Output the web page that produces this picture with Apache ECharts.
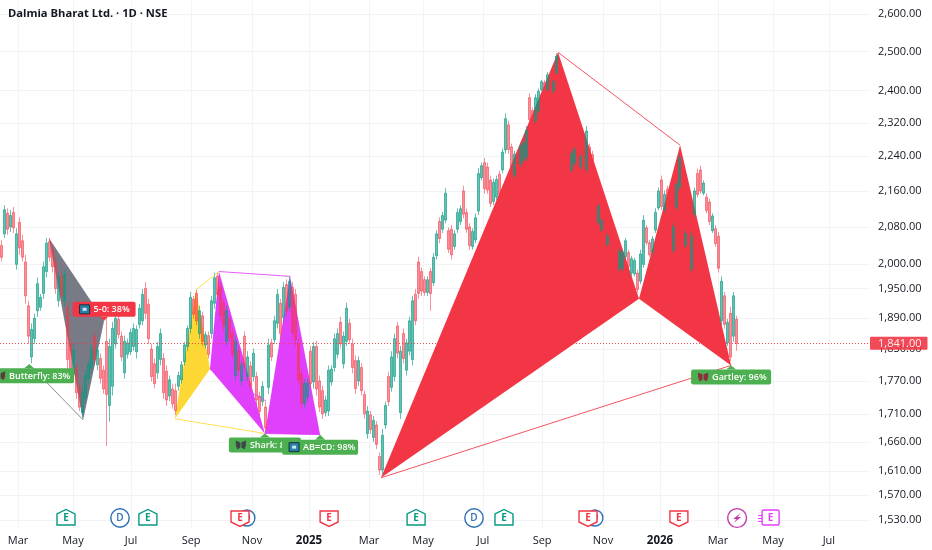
<!DOCTYPE html>
<html><head><meta charset="utf-8">
<style>html,body{margin:0;padding:0;background:#fff}#c{width:932px;height:550px}</style>
<script src="https://cdn.jsdelivr.net/npm/echarts@6/dist/echarts.min.js"></script>
</head><body><div id="c"></div>
<script>
const opens=[2040,2065,2110,2080,2112,2000,2090,2050,2005,1915,
1815,1850,1905,1912,1940,1985,2048,2030,2005,1925,
1975,1925,1912,1838,1782,1795,1755,1712,1738,1775,
1795,1855,1800,1812,1790,1845,1725,1760,1840,1888,
1855,1785,1820,1825,1835,1825,1878,1885,1950,1918,
1830,1802,1785,1810,1812,1788,1742,1755,1752,1760,
1772,1806,1835,1870,1928,1940,1860,1895,1838,1856,
1860,1920,1975,1952,1920,1845,1888,1860,1780,1826,
1770,1855,1778,1798,1778,1778,1742,1732,1722,1758,
1842,1848,1880,1920,1892,1958,1912,1952,1938,1840,
1782,1728,1740,1826,1768,1835,1770,1752,1712,1715,
1768,1795,1820,1882,1802,1845,1880,1840,1808,1770,
1795,1745,1675,1708,1668,1690,1635,1612,1690,1778,
1758,1778,1875,1712,1860,1790,1826,1810,1938,2005,
1985,1968,1942,1985,1962,2018,2092,2075,2095,2072,
2075,2038,2075,2092,2160,2112,2080,2038,2052,2115,
2190,2225,2215,2185,2136,2146,2198,2208,2255,2315,
2262,2196,2232,2222,2230,2238,2382,2350,2325,2350,
2402,2420,2402,2414,2398,2445,2476,2445,2378,2316,
2208,2224,2246,2216,2246,2210,2262,2244,2188,2090,
2074,2098,2042,2060,2046,2035,1990,1992,2016,2025,
1982,1980,1982,1965,2000,2078,2046,2026,2073,2122,
2185,2118,2164,2132,2030,2124,2168,2208,2040,2130,
1990,2108,2200,2208,2155,2146,2135,2072,2076,2060,
1885,1935,1842,1900,1855,1888];
const highs=[2052,2128,2121,2117,2124,2077,2101,2063,2020,1925,
1880,1899,1973,1939,2006,2056,2056,2041,2020,1985,
1985,1989,1923,1850,1840,1803,1765,1761,1790,1812,
1840,1864,1836,1822,1799,1889,1850,1883,1899,1895,
1864,1856,1850,1870,1880,1876,1919,1949,1963,1929,
1840,1812,1844,1870,1822,1799,1780,1765,1765,1787,
1807,1844,1876,1943,1935,1949,1915,1903,1864,1864,
1935,1983,1983,1963,1929,1915,1895,1870,1856,1836,
1807,1864,1826,1807,1831,1787,1750,1769,1732,1850,
1850,1895,1949,1929,1963,1969,1975,1963,1949,1850,
1793,1774,1774,1836,1844,1846,1780,1761,1743,1799,
1799,1860,1870,1893,1864,1921,1889,1850,1818,1816,
1803,1752,1724,1715,1706,1697,1642,1683,1732,1787,
1826,1860,1883,1836,1870,1850,1893,1935,1949,2016,
1993,1975,1975,1993,2024,2073,2101,2113,2166,2079,
2084,2073,2121,2128,2172,2121,2088,2077,2110,2213,
2225,2236,2225,2195,2188,2195,2207,2258,2343,2325,
2270,2253,2241,2272,2277,2312,2393,2357,2391,2405,
2427,2427,2447,2418,2427,2495,2482,2452,2386,2325,
2253,2262,2253,2246,2253,2312,2270,2253,2195,2132,
2099,2106,2067,2067,2052,2041,2035,2031,2056,2031,
2018,2014,1989,2031,2106,2084,2052,2060,2121,2168,
2195,2161,2172,2139,2088,2184,2246,2218,2073,2139,
2069,2168,2211,2218,2184,2154,2143,2110,2084,2069,
1975,1943,1889,1913,1943,1895];
const lows=[2006,2056,2063,2069,2067,1989,2020,2006,1919,1840,
1803,1840,1893,1905,1929,1973,2006,1983,1939,1913,
1925,1913,1793,1778,1769,1737,1715,1703,1728,1765,
1784,1799,1790,1765,1746,1653,1696,1743,1831,1850,
1807,1774,1812,1818,1827,1812,1870,1876,1889,1840,
1769,1756,1774,1799,1737,1724,1733,1719,1708,1752,
1765,1799,1827,1860,1889,1876,1850,1836,1831,1812,
1850,1909,1929,1883,1864,1836,1844,1812,1769,1780,
1761,1787,1769,1750,1769,1724,1706,1724,1678,1746,
1807,1840,1870,1850,1883,1895,1903,1850,1836,1761,
1719,1719,1732,1756,1756,1743,1713,1701,1705,1706,
1761,1787,1812,1831,1793,1836,1840,1784,1746,1761,
1743,1701,1666,1674,1660,1648,1604,1605,1683,1724,
1750,1769,1812,1701,1803,1780,1818,1799,1876,1929,
1935,1935,1935,1905,1955,2010,2045,2067,2088,2024,
2010,2031,2067,2084,2099,2067,2031,2031,2045,2106,
2184,2154,2154,2124,2128,2139,2145,2200,2246,2246,
2207,2188,2184,2214,2223,2229,2318,2308,2318,2343,
2398,2386,2398,2393,2393,2440,2440,2374,2312,2241,
2202,2218,2207,2211,2207,2202,2229,2172,2132,2084,
2069,2052,2037,2031,2010,2000,1983,1985,2010,1989,
1975,1975,1941,1959,1993,2041,2016,2020,2067,2117,
2117,2110,2124,2095,2024,2117,2161,2128,2035,2063,
1983,2101,2145,2154,2150,2110,2084,2067,2037,1983,
1876,1870,1836,1807,1844,1827];
const closes=[2015,2118,2075,2105,2078,2065,2035,2015,1935,1855,
1868,1890,1960,1932,1995,2045,2015,1995,1950,1975,
1935,1980,1810,1790,1828,1748,1722,1750,1780,1802,
1830,1810,1828,1775,1755,1745,1835,1870,1890,1858,
1815,1845,1842,1862,1870,1868,1910,1938,1900,1850,
1778,1765,1835,1860,1748,1735,1772,1728,1716,1780,
1800,1838,1870,1932,1898,1885,1905,1845,1858,1820,
1925,1972,1938,1895,1875,1905,1852,1820,1845,1790,
1800,1798,1815,1760,1822,1735,1714,1760,1685,1838,
1815,1885,1938,1860,1952,1905,1965,1862,1848,1772,
1730,1765,1766,1765,1835,1755,1722,1710,1735,1790,
1792,1850,1860,1840,1855,1910,1848,1795,1756,1808,
1752,1710,1715,1682,1698,1656,1612,1672,1725,1732,
1815,1850,1822,1826,1812,1842,1885,1925,1885,1940,
1945,1942,1968,1940,2015,2065,2055,2105,2155,2032,
2020,2065,2112,2120,2108,2075,2040,2070,2100,2200,
2218,2165,2162,2132,2180,2186,2152,2250,2330,2256,
2215,2245,2192,2265,2270,2302,2328,2315,2382,2398,
2422,2392,2440,2398,2422,2488,2446,2382,2320,2250,
2246,2256,2212,2240,2212,2300,2234,2180,2138,2125,
2094,2058,2060,2036,2015,2006,2028,2025,2050,1995,
2012,2008,1948,2022,2095,2046,2020,2054,2112,2160,
2125,2152,2130,2100,2080,2175,2236,2136,2066,2070,
2060,2160,2152,2160,2178,2116,2092,2104,2044,1992,
1965,1878,1882,1815,1935,1841];

const lastPrice=1841;
const priceTicks=[2600,2500,2400,2320,2240,2160,2080,2000,1950,1890,1830,1770,1710,1660,1610,1570,1530];
const timePositions=[6,24.3,43.7,63.7,84,103,123,141,161,180.7,201,220,239.3,257.7,276.3];
const timeLabels=['Mar','May','Jul','Sep','Nov','2025','Mar','May','Jul','Sep','Nov','2026','Mar','May','Jul'];

// pattern pivots: [bar position, price]
const butterflyX=[9.7,1801], butterflyA=[16.3,2056], butterflyB=[27.7,1699], butterflyC=[34.7,1885];
const sharkX=[58.3,1701], sharkA=[65.3,1947], sharkB=[70,1792], sharkC=[73,1985], sharkD=[88.3,1675];
const abcdB=[96.7,1975], abcdD=[106.7,1673], abcdKink=[88.7,1733];
const gartleyX=[127,1599], gartleyA=[186,2498], gartleyB=[213,1929], gartleyC=[226.7,2266], gartleyD=[243.7,1799];

const fills=[
 {pts:[butterflyA,butterflyB,butterflyC],color:'#787b86'},
 {pts:[sharkX,sharkA,sharkB],color:'#fdd835'},
 {pts:[sharkC,sharkB,sharkD],color:'#e040fb'},
 {pts:[sharkD,abcdB,abcdD],color:'#e040fb'},
 {pts:[gartleyX,gartleyA,gartleyB],color:'#f23645'},
 {pts:[gartleyB,gartleyC,gartleyD],color:'#f23645'}
];
const outlines=[
 {pts:[butterflyX,butterflyB],color:'#787b86'},
 {pts:[sharkA,sharkC],color:'#fdd835'},
 {pts:[sharkX,sharkD],color:'#fdd835'},
 {pts:[sharkC,abcdB],color:'#e040fb'},
 {pts:[sharkD,abcdD],color:'#e040fb'},
 {pts:[sharkB,abcdKink],color:'#e040fb'},
 {pts:[gartleyA,gartleyC],color:'#f23645'},
 {pts:[gartleyX,gartleyD],color:'#f23645'}
];
const tags=[
 {at:butterflyX,text:'Butterfly: 83%',color:'#4caf50',icon:'wings',tint:'#5a3f3f',w:86,shift:2},
 {at:butterflyC,text:'5-0: 38%',color:'#f23645',icon:'box',tint:'#2a7fa8',w:63,shift:0,above:true},
 {at:sharkD,text:'Shark: 87%',color:'#4caf50',icon:'wings',tint:'#3f4548',w:72,shift:0},
 {at:abcdD,text:'AB=CD: 98%',color:'#4caf50',icon:'box',tint:'#2a7fa8',w:76,shift:0,down:1},
 {at:gartleyD,text:'Gartley: 96%',color:'#4caf50',icon:'wings',tint:'#8a2f3f',w:80,shift:0}
];
const events=[
 {pos:22,kind:'E',tone:'up'},{pos:40,kind:'D'},{pos:49.3,kind:'E',tone:'up'},
 {pos:82.3,kind:'D',small:true},{pos:80,kind:'E',tone:'down'},{pos:109.7,kind:'E',tone:'down'},
 {pos:138.7,kind:'E',tone:'up'},{pos:158,kind:'D'},{pos:168,kind:'E',tone:'up'},
 {pos:198.3,kind:'D',small:true},{pos:196,kind:'E',tone:'down'},{pos:226.3,kind:'E',tone:'down'},
 {pos:245.7,kind:'S'},{pos:256.7,kind:'F'}
];
const eventPrice=1533;

const fontMain='"Open Sans","Noto Sans",sans-serif';
const UP='rgba(8,153,129,0.62)',DOWN='rgba(242,54,69,0.55)';
const candleData=opens.map((o,i)=>[i+0.5,o,closes[i],lows[i],highs[i]]);

function drawShapes(params,api){
  const f=fills[params.dataIndex];
  return {type:'polygon',shape:{points:f.pts.map(p=>api.coord(p))},style:{fill:f.color,stroke:null},silent:true};
}
function drawLines(params,api){
  const l=outlines[params.dataIndex];
  const a=api.coord(l.pts[0]),b=api.coord(l.pts[1]);
  return {type:'line',shape:{x1:a[0],y1:a[1],x2:b[0],y2:b[1]},style:{stroke:l.color,lineWidth:1,opacity:.85},silent:true};
}
function tagIcon(kind,tint,x,y){
  if(kind==='box'){
    return [
      {type:'rect',shape:{x:x,y:y,width:10,height:9},style:{fill:tint,stroke:'#17323f',lineWidth:1}},
      {type:'rect',shape:{x:x+3,y:y+3,width:4,height:3},style:{fill:'#cfe6ef'}}
    ];
  }
  return [
    {type:'polygon',shape:{points:[[x,y],[x+4.5,y+2],[x+4.5,y+7],[x+1.5,y+9],[x,y+5]]},style:{fill:tint}},
    {type:'polygon',shape:{points:[[x+10,y],[x+5.5,y+2],[x+5.5,y+7],[x+8.5,y+9],[x+10,y+5]]},style:{fill:tint}}
  ];
}
function drawTags(params,api){
  const t=tags[params.dataIndex];
  const c=api.coord(t.at);
  const h=15;
  const cx=c[0]+t.shift;
  const left=cx-t.w/2, gap=t.above?-4:(4+(t.down||0));
  const top=t.above?c[1]-4-h:c[1]+gap;
  const tip=t.above
    ?[[c[0]-4,top+h],[c[0]+4,top+h],[c[0],c[1]]]
    :[[c[0]-5,top],[c[0]+5,top],[c[0],c[1]]];
  return {type:'group',silent:true,children:[
    {type:'polygon',shape:{points:tip},style:{fill:t.color}},
    {type:'rect',shape:{x:left,y:top,width:t.w,height:h,r:2},style:{fill:t.color}}
  ].concat(tagIcon(t.icon,t.tint,left+7,top+3)).concat([
    {type:'text',style:{x:left+21,y:top+h/2+.5,text:t.text,fill:'#fff',font:'600 9px '+fontMain,textVerticalAlign:'middle'}}
  ])};
}
function drawEvents(params,api){
  const e=events[params.dataIndex];
  const p=api.coord([e.pos,eventPrice]);
  const x=p[0],y=p[1];
  if(e.kind==='D'){
    return {type:'group',silent:true,children:[
      {type:'circle',shape:{cx:x,cy:y,r:e.small?8:9.2},style:{fill:'#fff',stroke:'#2f6fb5',lineWidth:1.4}},
      {type:'text',style:{x:x,y:y+.5,text:'D',fill:'#2f6fb5',font:'600 10px '+fontMain,textAlign:'center',textVerticalAlign:'middle'}}
    ]};
  }
  if(e.kind==='S'){
    const col='#c43bac';
    return {type:'group',silent:true,children:[
      {type:'circle',shape:{cx:x,cy:y,r:9.4},style:{fill:'#fff',stroke:col,lineWidth:1.4}},
      {type:'polygon',shape:{points:[[x+3.5,y-5],[x-4,y+1],[x-.5,y+1],[x-3.5,y+5],[x+4,y-1],[x+.5,y-1]]},style:{fill:col}}
    ]};
  }
  if(e.kind==='F'){
    const col='#e040fb';
    return {type:'group',silent:true,children:[
      {type:'rect',shape:{x:x-8,y:y-8,width:17,height:15,r:1.5},style:{fill:'#fff',stroke:col,lineWidth:1.4}},
      {type:'line',shape:{x1:x-12,y1:y-2.5,x2:x-8,y2:y-2.5},style:{stroke:col,lineWidth:1}},
      {type:'line',shape:{x1:x-12,y1:y+.5,x2:x-8,y2:y+.5},style:{stroke:col,lineWidth:1}},
      {type:'line',shape:{x1:x-12,y1:y+3.5,x2:x-8,y2:y+3.5},style:{stroke:col,lineWidth:1}},
      {type:'text',style:{x:x+.5,y:y,text:'E',fill:col,font:'700 10px '+fontMain,textAlign:'center',textVerticalAlign:'middle'}}
    ]};
  }
  const col=e.tone==='up'?'#089981':'#f23645';
  const pts=e.tone==='up'
    ?[[x-9,y-4],[x,y-8.5],[x+9,y-4],[x+9,y+7],[x-9,y+7]]
    :[[x-9,y-7],[x+9,y-7],[x+9,y+4],[x,y+8.5],[x-9,y+4]];
  return {type:'group',silent:true,children:[
    {type:'polygon',shape:{points:pts},style:{fill:'#fff',stroke:col,lineWidth:1.4}},
    {type:'text',style:{x:x,y:y+.5,text:'E',fill:col,font:'700 10px '+fontMain,textAlign:'center',textVerticalAlign:'middle'}}
  ]};
}

const chart=echarts.init(document.getElementById('c'),null,{renderer:'canvas'});
chart.setOption({
  animation:false,
  backgroundColor:'#fff',
  title:{text:'Dalmia Bharat Ltd. · 1D · NSE',left:8,top:8,padding:0,
    textStyle:{fontFamily:fontMain,fontWeight:700,fontSize:11.2,color:'#131722'}},
  grid:{left:0,right:62,top:1,bottom:22,containLabel:false},
  xAxis:{type:'value',min:0,max:290,
    axisLine:{show:false},
    axisTick:{show:false,customValues:timePositions},
    splitLine:{show:true,lineStyle:{color:'#f1f3f6',width:1}},
    axisLabel:{show:true,customValues:timePositions,margin:7,fontFamily:fontMain,fontSize:11,color:'#131722',
      showMinLabel:true,showMaxLabel:true,hideOverlap:false,
      formatter:v=>{const k=timePositions.findIndex(p=>Math.abs(p-v)<.01);const s=timeLabels[k]||'';return /^\d+$/.test(s)?'{y|'+s+'}':s;},
      rich:{y:{fontFamily:fontMain,fontWeight:700,fontSize:11.5,color:'#131722'}}}
  },
  yAxis:{type:'log',logBase:10,position:'right',min:1517,max:2636,
    axisLine:{show:false},
    axisTick:{show:false,customValues:priceTicks},
    splitLine:{show:true,lineStyle:{color:'#f1f3f6',width:1}},
    minorTick:{show:false},minorSplitLine:{show:false},
    axisLabel:{show:true,customValues:priceTicks,margin:8,fontFamily:fontMain,fontSize:11,color:'#131722',
      formatter:v=>Number(Math.round(v)).toLocaleString('en-US',{minimumFractionDigits:2,maximumFractionDigits:2})}
  },
  series:[
    {type:'custom',name:'fills',z:2,clip:false,renderItem:drawShapes,data:fills.map((_,i)=>[i]),encode:{x:-1,y:-1}},
    {type:'candlestick',name:'price',z:3,barWidth:2,data:candleData,encode:{x:0,y:[1,2,3,4]},
      itemStyle:{color:UP,color0:DOWN,borderColor:UP,borderColor0:DOWN,borderWidth:1},
      markLine:{silent:true,symbol:'none',z:9,animation:false,
        lineStyle:{color:'#f23645',type:[1,2],width:1,opacity:.9},
        label:{show:true,position:'end',distance:0,formatter:()=>Number(lastPrice).toLocaleString('en-US',{minimumFractionDigits:2}),
          backgroundColor:'#f23645',color:'#fff',fontFamily:fontMain,fontSize:11,padding:[1,6,1,8],borderRadius:1},
        data:[{yAxis:lastPrice}]}},
    {type:'custom',name:'lines',z:4,clip:false,renderItem:drawLines,data:outlines.map((_,i)=>[i]),encode:{x:-1,y:-1}},
    {type:'custom',name:'tags',z:6,clip:false,renderItem:drawTags,data:tags.map((_,i)=>[i]),encode:{x:-1,y:-1}},
    {type:'custom',name:'events',z:6,clip:false,renderItem:drawEvents,data:events.map((_,i)=>[i]),encode:{x:-1,y:-1}}
  ]
});
</script></body></html>
